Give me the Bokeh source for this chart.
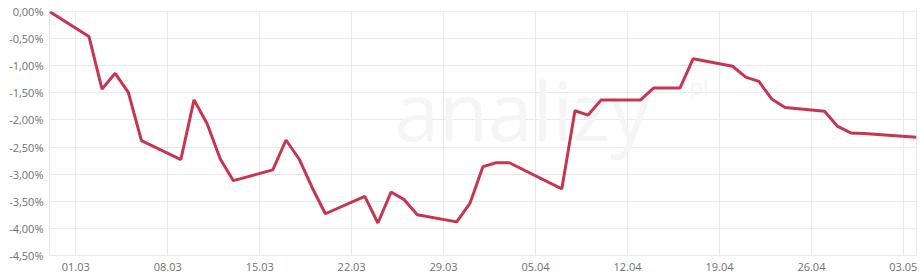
from datetime import datetime
from bokeh.plotting import figure
from bokeh.models import FixedTicker, DatetimeTickFormatter, CustomJSTickFormatter, Range1d, Label
from bokeh.embed import file_html
from bokeh.resources import INLINE

dates = ["2020-02-28", "2020-03-02", "2020-03-03", "2020-03-04", "2020-03-05", "2020-03-06",
         "2020-03-09", "2020-03-10", "2020-03-11", "2020-03-12", "2020-03-13",
         "2020-03-16", "2020-03-17", "2020-03-18", "2020-03-19", "2020-03-20",
         "2020-03-23", "2020-03-24", "2020-03-25", "2020-03-26", "2020-03-27",
         "2020-03-30", "2020-03-31", "2020-04-01", "2020-04-02", "2020-04-03",
         "2020-04-07", "2020-04-08", "2020-04-09", "2020-04-10",
         "2020-04-13", "2020-04-14", "2020-04-15", "2020-04-16", "2020-04-17",
         "2020-04-20", "2020-04-21", "2020-04-22", "2020-04-23", "2020-04-24",
         "2020-04-27", "2020-04-28", "2020-04-29", "2020-04-30", "2020-05-04"]
values = [0.00, -0.46, -1.43, -1.14, -1.49, -2.38,
          -2.73, -1.63, -2.07, -2.72, -3.12,
          -2.92, -2.37, -2.72, -3.25, -3.73,
          -3.41, -3.90, -3.33, -3.47, -3.75,
          -3.88, -3.54, -2.86, -2.79, -2.79,
          -3.27, -1.83, -1.91, -1.63,
          -1.63, -1.41, -1.41, -1.41, -0.87,
          -1.01, -1.21, -1.29, -1.62, -1.77,
          -1.84, -2.12, -2.24, -2.25, -2.32]
x_tick_dates = ["2020-03-01", "2020-03-08", "2020-03-15", "2020-03-22", "2020-03-29",
                "2020-04-05", "2020-04-12", "2020-04-19", "2020-04-26", "2020-05-03"]
y_ticks = [0.0, -0.5, -1.0, -1.5, -2.0, -2.5, -3.0, -3.5, -4.0, -4.5]

xs = [datetime.strptime(d, "%Y-%m-%d") for d in dates]
xt = [datetime.strptime(d, "%Y-%m-%d").timestamp() * 1000 for d in x_tick_dates]

p = figure(width=920, height=279, x_axis_type="datetime", output_backend="svg",
           toolbar_location=None, min_border_left=49, min_border_right=4,
           min_border_top=11, min_border_bottom=24)
p.x_range = Range1d(xs[0], xs[-1])
p.y_range = Range1d(-4.5, 0.0)

grid_col = "#e6e9f1"
p.outline_line_color = grid_col
p.xgrid.grid_line_color = grid_col
p.ygrid.grid_line_color = grid_col

p.xaxis.ticker = FixedTicker(ticks=xt)
p.xaxis.formatter = DatetimeTickFormatter(days="%d.%m", months="%d.%m", years="%d.%m",
                                          hours="%d.%m", minutes="%d.%m")
p.yaxis.ticker = FixedTicker(ticks=y_ticks)
p.yaxis.formatter = CustomJSTickFormatter(code="return tick.toFixed(2).replace('.', ',') + '%';")

for ax in (p.xaxis[0], p.yaxis[0]):
    ax.axis_line_color = None
    ax.major_tick_line_color = None
    ax.minor_tick_line_color = None
    ax.major_tick_out = 0
    ax.major_tick_in = 0
    ax.major_label_text_font = "Open Sans"
    ax.major_label_text_font_size = "11px"
    ax.major_label_text_color = "#707070"
p.yaxis.major_label_standoff = 6
p.xaxis.major_label_standoff = 7

# faint watermark
p.add_layout(Label(x=345, y=92, x_units="screen", y_units="screen", text="analizy",
                   text_font="Open Sans", text_font_size="80px", text_color="#f5f5f7",
                   level="underlay"))
p.add_layout(Label(x=640, y=155, x_units="screen", y_units="screen", text="pl",
                   text_font="Open Sans", text_font_size="22px", text_color="#f5f5f7",
                   level="underlay"))

p.line(xs, values, line_color="#c8364e", line_width=3)

open("out.html", "w").write(file_html(p, INLINE))
